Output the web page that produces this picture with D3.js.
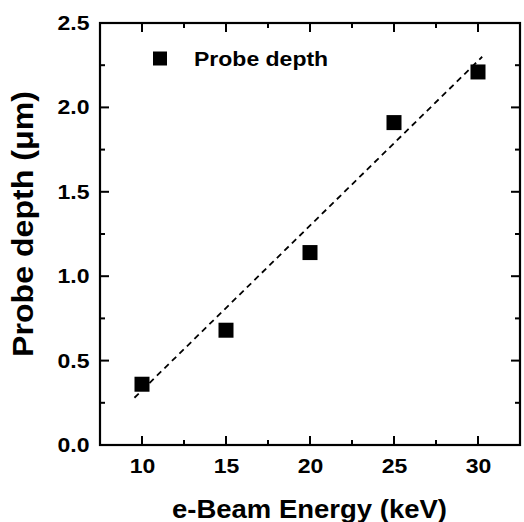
<!DOCTYPE html>
<html><head><meta charset="utf-8">
<script src="https://cdn.jsdelivr.net/npm/d3@7"></script>
<style>
html,body{margin:0;padding:0;background:#fff;}
text{font-family:"Liberation Sans",Arial,sans-serif;font-weight:bold;fill:#000;}
</style></head>
<body>
<svg id="chart" width="524" height="522"></svg>
<script>
const energies = [10, 15, 20, 25, 30];
const depths = [0.36, 0.68, 1.14, 1.91, 2.21];
const fitX = [9.55, 30.25];
const fitY = [0.28, 2.30];
const xTicks = [10, 15, 20, 25, 30];
const xMinor = [12.5, 17.5, 22.5, 27.5];
const yTicks = [0.0, 0.5, 1.0, 1.5, 2.0, 2.5];
const yMinor = [0.25, 0.75, 1.25, 1.75, 2.25];
const seriesName = "Probe depth";
const xTitle = "e-Beam Energy (keV)";
const yTitle = "Probe depth (\u03BCm)";

const svg = d3.select("#chart");
const L = 100, R = 520, T = 23, B = 445;
const x = d3.scaleLinear().domain([7.5, 32.5]).range([L, R]);
const y = d3.scaleLinear().domain([0, 2.5]).range([B, T]);

function widen(sel, f) {
  sel.each(function() {
    const w = this.getComputedTextLength();
    if (w > 0) d3.select(this).attr("textLength", w * f).attr("lengthAdjust", "spacingAndGlyphs");
  });
}

svg.append("g").attr("transform", `translate(0,${B})`)
  .call(d3.axisBottom(x).tickValues(xTicks).tickSize(0).tickPadding(14).tickFormat(d3.format("d")));
svg.append("g").attr("transform", `translate(${L},0)`)
  .call(d3.axisLeft(y).tickValues(yTicks).tickSize(0).tickPadding(10.5).tickFormat(d3.format(".1f")));
svg.selectAll(".domain").remove();
svg.selectAll(".tick line").remove();
svg.selectAll(".tick text").style("font-size", "20px").style("font-family", "Liberation Sans, Arial, sans-serif").style("font-weight", "bold").attr("fill", "#000");

// Inward tick marks on all four sides, as filled rects
const major = 9, minor = 5, tw = 2;
const xAll = xTicks.map(v => ({v, len: major})).concat(xMinor.map(v => ({v, len: minor})));
const yAll = yTicks.map(v => ({v, len: major})).concat(yMinor.map(v => ({v, len: minor})));
const tk = svg.append("g").attr("fill", "#000");
tk.selectAll("rect.xb").data(xAll).enter().append("rect").attr("class", "xb")
  .attr("x", d => x(d.v) - tw / 2).attr("y", d => B - d.len).attr("width", tw).attr("height", d => d.len);
tk.selectAll("rect.xt").data(xAll).enter().append("rect").attr("class", "xt")
  .attr("x", d => x(d.v) - tw / 2).attr("y", T).attr("width", tw).attr("height", d => d.len);
tk.selectAll("rect.yl").data(yAll).enter().append("rect").attr("class", "yl")
  .attr("x", L).attr("y", d => y(d.v) - tw / 2).attr("width", d => d.len).attr("height", tw);
tk.selectAll("rect.yr").data(yAll).enter().append("rect").attr("class", "yr")
  .attr("x", d => R - d.len).attr("y", d => y(d.v) - tw / 2).attr("width", d => d.len).attr("height", tw);

svg.append("rect").attr("x", L).attr("y", T).attr("width", R - L).attr("height", B - T)
  .attr("fill", "none").attr("stroke", "#000").attr("stroke-width", 2.2);

const line = d3.line().x(d => x(d[0])).y(d => y(d[1]));
svg.append("path").datum(fitX.map((v, i) => [v, fitY[i]]))
  .attr("d", line).attr("fill", "none").attr("stroke", "#000")
  .attr("stroke-width", 1.8).attr("stroke-dasharray", "6,4.5");

const s = 15;
svg.selectAll("rect.pt").data(energies).enter().append("rect").attr("class", "pt")
  .attr("x", d => x(d) - s / 2).attr("y", (d, i) => y(depths[i]) - s / 2)
  .attr("width", s).attr("height", s).attr("fill", "#000");

svg.append("rect").attr("x", 160 - 7).attr("y", 58.5 - 7).attr("width", 14).attr("height", 14).attr("fill", "#000");
const lt = svg.append("text").attr("x", 194).attr("y", 65.5).style("font-size", "20px").text(seriesName);

const xt = svg.append("text").attr("x", 309.5).attr("y", 518).attr("text-anchor", "middle")
  .style("font-size", "25px").text(xTitle);
const yt = svg.append("text").attr("transform", "translate(33,224) rotate(-90)").attr("text-anchor", "middle")
  .style("font-size", "29.5px").text(yTitle);

widen(svg.selectAll(".tick text"), 1.15);
widen(lt, 1.15);
xt.attr("textLength", 275).attr("lengthAdjust", "spacingAndGlyphs");
yt.attr("textLength", 266).attr("lengthAdjust", "spacingAndGlyphs");
</script>
</body></html>
